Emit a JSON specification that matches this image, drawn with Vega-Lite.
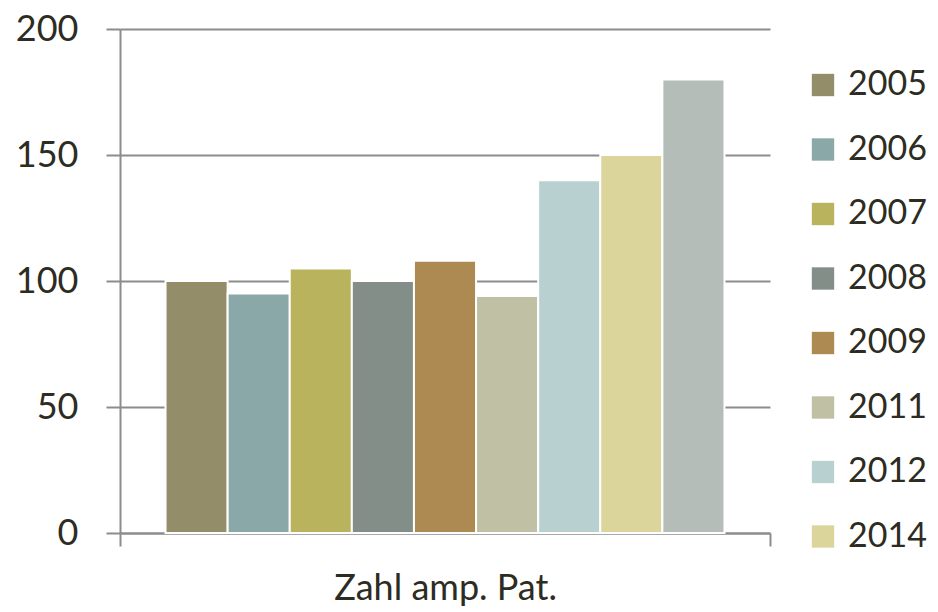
{
  "$schema": "https://vega.github.io/schema/vega-lite/v6.json",
  "width": 650,
  "height": 504,
  "autosize": {"type": "none"},
  "padding": {"left": 120, "top": 29, "right": 168, "bottom": 79},
  "background": "white",
  "config": {
    "font": "Lato",
    "view": {"stroke": null},
    "axis": {"labelFont": "Lato", "labelColor": "#2d2c22", "labelFontSize": 36, "labelLimit": 0}
  },
  "data": {
    "values": [
      {"category": "Zahl amp. Pat.", "year": "2005", "value": 100},
      {"category": "Zahl amp. Pat.", "year": "2006", "value": 95},
      {"category": "Zahl amp. Pat.", "year": "2007", "value": 105},
      {"category": "Zahl amp. Pat.", "year": "2008", "value": 100},
      {"category": "Zahl amp. Pat.", "year": "2009", "value": 108},
      {"category": "Zahl amp. Pat.", "year": "2011", "value": 94},
      {"category": "Zahl amp. Pat.", "year": "2012", "value": 140},
      {"category": "Zahl amp. Pat.", "year": "2014", "value": 150},
      {"category": "Zahl amp. Pat.", "year": "2015", "value": 180}
    ]
  },
  "mark": {"type": "bar", "stroke": "white", "strokeWidth": 2},
  "encoding": {
    "x": {
      "field": "category",
      "type": "nominal",
      "scale": {"paddingInner": 0, "paddingOuter": 0},
      "axis": {
        "title": null,
        "labelAngle": 0,
        "tickBand": "extent",
        "ticks": true,
        "tickSize": 13,
        "tickWidth": 2,
        "tickColor": "#8c8c8c",
        "domainColor": "#8c8c8c",
        "domainWidth": 2,
        "labelPadding": 25,
        "labelBaseline": "top"
      }
    },
    "xOffset": {
      "field": "year",
      "type": "nominal",
      "scale": {"paddingInner": 0, "paddingOuter": 0.733}
    },
    "y": {
      "field": "value",
      "type": "quantitative",
      "scale": {"domain": [0, 200], "nice": false},
      "axis": {
        "title": null,
        "values": [0, 50, 100, 150, 200],
        "grid": true,
        "gridColor": "#8c8c8c",
        "gridWidth": 2,
        "tickSize": 14,
        "tickWidth": 2,
        "tickColor": "#8c8c8c",
        "domainColor": "#8c8c8c",
        "domainWidth": 2,
        "labelPadding": 28
      }
    },
    "color": {
      "field": "year",
      "type": "nominal",
      "scale": {
        "domain": ["2005", "2006", "2007", "2008", "2009", "2011", "2012", "2014", "2015"],
        "range": ["#948d69", "#8aa8a7", "#b9b35e", "#838e88", "#ae8a53", "#c0c0a4", "#b8d0d0", "#dbd59c", "#b5bdb9"]
      },
      "legend": {
        "title": null,
        "values": ["2005", "2006", "2007", "2008", "2009", "2011", "2012", "2014"],
        "orient": "none",
        "legendX": 686,
        "legendY": 39,
        "symbolType": "square",
        "symbolSize": 500,
        "symbolStrokeWidth": 0,
        "labelFont": "Lato",
        "labelFontSize": 34,
        "labelColor": "#2d2c22",
        "rowPadding": 30.5,
        "labelOffset": 8,
        "labelLimit": 0
      }
    }
  }
}
